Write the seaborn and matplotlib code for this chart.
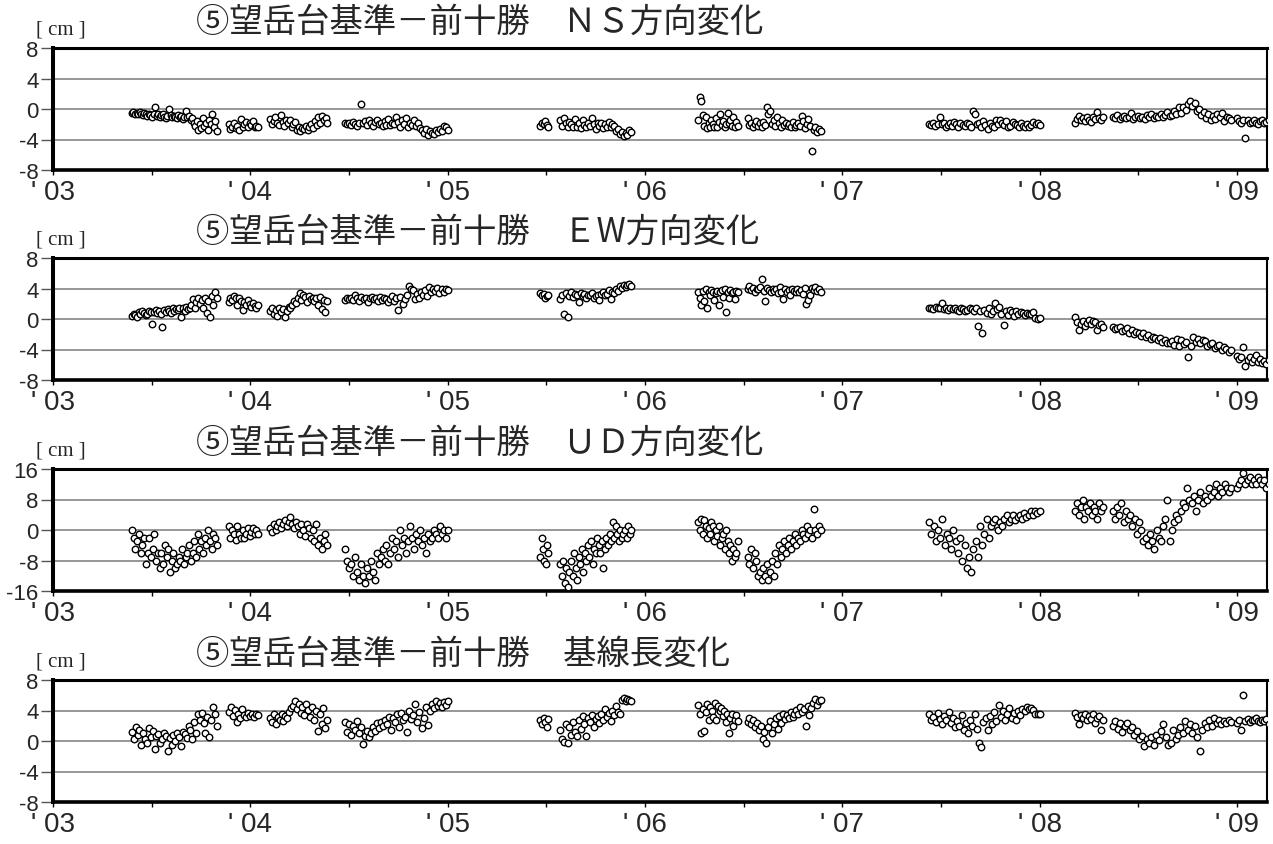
import numpy as np
import pandas as pd
import matplotlib
matplotlib.use('Agg')
import matplotlib.pyplot as plt
import seaborn as sns

sns.set_theme(style='white')
plt.rcParams['font.family'] = ['Noto Sans CJK JP', 'DejaVu Sans']

# 観測区間（年の小数表記）
seg_start = [2003.40, 2003.89, 2004.10, 2004.48, 2005.47, 2005.57, 2006.27, 2006.52, 2007.44, 2008.18, 2008.37, 2009.00]
seg_end = [2003.83, 2004.04, 2004.39, 2005.00, 2005.51, 2005.93, 2006.47, 2006.89, 2008.00, 2008.32, 2008.97, 2009.16]

# NS方向変化 [cm]
ns_vals = [
    [-0.5, -0.4, -0.6, -0.5, -0.7, -0.4, -0.6, -0.8, -0.5, -0.7, -0.9, -0.6, -0.8, -1.0, -0.7, 0.3, -0.9, -0.6, -1.1,
     -0.8, -0.7, -1.0, -1.2, -0.9, 0.0, -0.8, -1.1, -0.9, -1.0, -1.2, -0.8, -1.1, -0.9, -1.3, -1.0, -0.3, -1.1, -0.9,
     -1.4, -1.2, -1.8, -2.2, -1.6, -2.8, -2.0, -2.5, -1.2, -2.2, -1.8, -2.7, -1.4, -2.0, -0.7, -2.4, -1.6, -2.9],
    [-2.0, -2.6, -2.3, -1.9, -2.5, -2.2, -2.7, -1.3, -2.4, -2.0, -1.7, -2.3, -1.9, -2.1, -1.6, -2.4, -2.2, -2.3],
    [-1.3, -2.0, -1.6, -1.0, -1.8, -2.1, -0.8, -1.7, -2.2, -1.5, -1.9, -1.4, -2.4, -2.0, -1.7, -2.7, -2.3, -2.9, -2.5,
     -2.6, -2.2, -2.8, -2.4, -2.0, -2.5, -1.6, -2.1, -1.0, -1.8, -0.9, -1.5, -1.2, -1.9],
    [-1.8, -2.0, -1.9, -2.1, -1.7, -2.0, -2.2, -1.9, 0.7, -1.9, -1.6, -2.1, -1.5, -1.8, -2.2, -1.7, -1.4, -2.0, -1.9,
     -2.2, -1.6, -2.1, -1.3, -2.1, -1.8, -2.0, -1.0, -1.7, -2.3, -1.5, -2.0, -1.2, -2.4, -1.8, -2.1, -1.5, -2.2, -1.9,
     -2.5, -2.8, -3.2, -2.6, -3.4, -2.9, -3.1, -3.3, -2.7, -3.0, -2.6, -2.9, -2.2, -2.4, -2.8],
    [-2.2, -1.8, -2.0, -1.6, -2.1, -2.3],
    [-1.5, -2.2, -1.2, -1.9, -2.4, -1.7, -2.0, -2.3, -1.3, -2.3, -1.8, -2.5, -1.5, -2.1, -2.4, -1.9, -2.2, -1.2, -2.0,
     -2.6, -1.8, -2.2, -1.9, -2.5, -2.0, -2.3, -1.7, -2.4, -2.0, -2.2, -2.9, -2.6, -3.3, -3.0, -3.5, -3.1, -3.4, -2.8,
     -3.0],
    [-1.5, 1.6, 1.1, -0.8, -2.2, -1.0, -2.5, -1.8, -2.3, -1.5, -2.0, -2.4, -1.2, -2.4, -1.7, -0.6, -2.1, -1.6, -2.3,
     -2.0, -0.5, -1.9, -1.4, -2.2, -1.0, -2.4, -1.7, -2.2],
    [-1.2, -2.1, -1.8, -2.3, -2.0, -1.6, -2.2, -1.9, -2.4, -1.7, -2.1, 0.2, -0.7, -0.3, -2.0, -1.5, -2.2, -1.1, -1.9,
     -2.3, -1.4, -2.1, -1.8, -2.2, -2.0, -2.4, -1.7, -2.3, -2.1, -1.9, -2.2, -0.9, -1.6, -2.5, -2.0, -1.3, -2.2, -5.5,
     -2.8, -2.4, -3.0, -2.6, -2.9],
    [-2.0, -2.1, -1.9, -2.2, -2.0, -1.0, -2.0, -1.8, -2.3, -2.1, -1.9, -2.2, -1.7, -2.0, -2.4, -1.8, -2.1, -2.2, -1.9,
     -2.0, -2.3, -0.2, -0.6, -2.0, -1.8, -2.3, -1.6, -2.1, -2.6, -1.9, -2.2, -2.4, -1.5, -2.0, -1.4, -1.8, -2.1, -1.6,
     -2.3, -2.2, -1.7, -2.0, -2.1, -2.4, -1.9, -2.2, -2.3, -2.0, -2.4, -2.1, -1.7, -2.0, -1.8, -2.1],
    [-1.8, -1.3, -0.9, -1.5, -1.2, -1.6, -1.0, -1.4, -1.7, -1.1, -1.3, -0.4, -1.2, -1.5, -1.0],
    [-1.0, -1.2, -0.8, -1.3, -1.1, -0.9, -1.2, -1.0, -0.5, -1.3, -1.1, -0.9, -1.2, -1.0, -1.3, -0.8, -1.1, -0.7, -1.2,
     -0.9, -1.1, -0.6, -1.0, -0.8, -0.4, -0.9, -0.8, -0.2, -0.6, 0.3, -0.5, 0.2, -0.1, 0.6, 1.1, 0.4, 0.8, -0.3, 0.0,
     -0.8, -0.4, -1.2, -0.6, -1.5, -0.9, -1.3, -0.7, -1.1, -0.5, -1.6, -1.0, -1.2, -1.4],
    [-1.2, -1.6, -1.9, -1.4, -3.8, -1.5, -1.8, -1.7, -1.4, -1.8, -2.0, -1.6, -1.5, -1.8, -1.7, -1.4],
]

# EW方向変化 [cm]
ew_vals = [
    [0.4, 0.7, 0.5, 0.3, 0.9, 0.6, 1.0, 0.8, 0.5, 0.7, 1.1, 0.9, -0.7, 0.9, 1.2, 0.8, 1.0, 0.7, -1.1, 1.2, 0.9, 1.3, 1.1,
     0.8, 1.4, 1.0, 1.3, 1.2, 1.5, 0.3, 1.5, 1.1, 1.6, 1.3, 1.4, 1.8, 2.6, 1.5, 2.2, 2.8, 2.0, 2.5, 1.5, 2.7, 0.8, 2.3,
     0.2, 3.0, 1.9, 3.6, 2.7],
    [2.2, 2.8, 2.5, 3.0, 2.7, 1.9, 2.7, 2.4, 1.2, 2.2, 1.8, 2.5, 2.0, 1.6, 2.1, 1.7, 1.5, 1.9],
    [1.0, 1.4, 0.6, 1.2, 0.4, 1.5, 0.9, 1.3, 0.2, 1.1, 1.6, 1.4, 1.9, 2.4, 2.1, 2.8, 3.4, 2.5, 3.2, 2.9, 2.2, 3.0, 2.6,
     2.8, 2.3, 2.7, 1.8, 2.9, 1.3, 2.5, 0.9, 2.4],
    [2.5, 2.7, 2.6, 2.8, 2.5, 3.1, 2.7, 2.4, 2.9, 2.6, 2.8, 2.2, 2.7, 2.9, 2.6, 2.7, 2.3, 2.9, 2.5, 2.8, 2.6, 2.2, 2.6,
     3.0, 2.4, 2.8, 1.2, 2.9, 2.0, 2.6, 3.2, 4.3, 4.0, 3.8, 2.6, 3.3, 2.8, 3.6, 3.2, 3.8, 3.0, 4.2, 3.5, 4.0, 3.7, 4.1,
     3.4, 3.9, 3.6, 4.0, 3.8],
    [3.4, 3.1, 3.3, 2.8, 3.0, 3.2],
    [2.6, 3.2, 0.7, 3.4, 0.2, 3.0, 3.5, 2.9, 3.3, 3.1, 2.2, 3.4, 3.0, 3.3, 2.8, 3.2, 3.1, 3.4, 2.7, 3.0, 3.2, 2.5, 3.3,
     3.5, 3.1, 3.3, 3.8, 2.6, 3.6, 3.4, 4.0, 3.7, 4.3, 4.1, 4.5, 4.2, 4.4, 4.6, 4.3],
    [3.5, 2.8, 1.8, 3.7, 2.4, 3.9, 1.5, 3.6, 3.2, 3.8, 3.5, 2.5, 3.4, 3.7, 1.9, 3.5, 3.8, 2.9, 3.9, 0.9, 3.6, 2.7, 3.8,
     3.4, 3.6, 2.6, 3.7, 3.5],
    [4.0, 4.3, 3.8, 4.1, 3.6, 4.0, 3.9, 4.2, 5.3, 3.7, 2.4, 4.1, 3.8, 3.5, 4.0, 3.7, 3.9, 3.4, 4.2, 3.6, 2.6, 3.9, 3.5,
     3.8, 3.2, 4.0, 3.7, 3.5, 3.9, 3.6, 3.8, 3.3, 4.1, 2.0, 2.5, 3.2, 4.1, 3.8, 4.2, 3.7, 3.9, 3.6],
    [1.4, 1.5, 1.3, 1.6, 1.4, 1.5, 2.1, 1.3, 1.5, 1.2, 1.4, 1.3, 1.5, 1.2, 1.1, 1.4, 1.3, 1.0, 1.2, 1.5, 1.3, 1.1, 1.4,
     -0.9, 1.0, -1.8, 1.2, 0.8, 1.4, 0.6, 1.0, 2.1, 1.3, 1.6, 0.7, -0.8, 1.1, 0.5, 1.2, 0.9, 0.4, 1.0, 0.7, 0.9, 0.8,
     0.5, 0.8, 0.6, 0.7, 0.9, 0.1, 0.0, 0.1],
    [0.2, -0.4, -1.4, -0.6, -0.2, -0.9, -0.5, -0.1, -0.7, -0.3, -0.4, -1.4, -0.8, -0.6, -1.0],
    [-1.1, -1.3, -1.2, -1.0, -1.6, -1.4, -1.2, -1.8, -1.5, -2.0, -1.7, -1.9, -2.2, -1.9, -2.4, -2.1, -2.6, -2.3, -2.5,
     -2.8, -2.5, -3.0, -2.7, -3.1, -3.2, -2.9, -3.4, -2.6, -3.6, -2.8, -3.3, -3.0, -5.0, -3.6, -2.4, -3.0, -2.6, -3.2,
     -2.8, -2.9, -3.5, -3.3, -3.1, -3.8, -3.6, -3.4, -4.0, -3.7, -3.9, -4.3, -4.1],
    [-4.8, -5.3, -5.0, -3.7, -6.2, -5.4, -5.0, -5.7, -5.3, -4.7, -5.6, -5.2, -5.8, -5.5, -5.9, -5.4],
]

# UD方向変化 [cm]
ud_vals = [
    [0, -2, -5, -3, -1, -6, -4, -2, -9, -6, -2, -7, -5, -1, -8, -6, -10, -6, -9, -4, -7, -5, -11, -8, -6, -10, -9, -7,
     -8, -5, -9, -7, -6, -4, -8, -6, -3, -7, -1, -5, -3, -6, -2, -4, 0, -3, -5, -1, -2, -4],
    [1, -2, 0, -1, -2.5, 1, -1, -2, 0, -2, -1, 0.5, -1.5, -0.5, 0.5, -1, 0, -1],
    [0.5, -0.5, 1.5, 0, 1, 2, 0.5, 1.5, 2.5, 1, 2, 3.5, 1.5, 0.5, 2, 1, -1, 1.5, 0, -1.5, 1.5, 0.5, -2, 0, -3, 1.5, -4,
     -2, -5, -3, -1, -4],
    [-5, -8, -10, -9, -12, -7, -11, -13, -9, -12, -14, -10, -12, -8, -11, -13, -6, -9, -7, -5, -8, -4, -9, -6, -2, -5,
     -3, -7, 0, -4, -2, -6, -3, 1, -2, -5, -1, -3, 0, -4, -2, -6, -1, -3, -2, 0, -1, -2, 1, -1, 0, -2, 0],
    [-7, -2, -5, -8, -9, -4, -6],
    [-9, -12, -8, -14, -10, -15, -11, -8, -12, -6, -10, -13, -7, -9, -5, -11, -6, -8, -4, -7, -3, -9, -5, -6, -2, -4, -6,
     -3, -10, -5, -2, -4, -1, -3, 2, -2, 1, -1, -3, 0, -2, -1, 0, -2, 1, -1, 0],
    [2, 0, 3, -1, 2.5, 1, -2, 0.5, -1, 2, 1, -3, 0, -1.5, 1, -4, -2, -1, -5, 0, -3, -6, -4, -8, -5, -7, -6, -3],
    [-7, -9, -5, -10, -6, -8, -12, -11, -13, -10, -12, -9, -13, -11, -8, -12, -6, -9, -4, -7, -5, -3, -6, -4, -2, -5, -3,
     -1, -4, -2, -3, 0, -1, -2, 1, -1, 0, -2, 5.5, 0, -1, 1, 0],
    [2, -1, 1, -3, 0, -2, 3, -4, -1, -2, -5, 0, -3, -6, -2, -8, -4, -10, -7, -11, -5, -3, -7, 1, -4, -1, 3, -2, 1, 2, 3,
     0, 2, 1, 3, 4, 2, 3, 4, 2.5, 3.5, 4, 3, 4.5, 3.5, 4, 5, 4, 5, 4.5, 5],
    [5, 7, 4, 6, 8, 3, 6, 5, 7, 4, 6, 5, 3, 7, 5, 6],
    [5, 3, 6, 4, 7, 2, 5, 3, 4, 1, 3, -1, 2, 0, -3, -2, -4, -1, -3, -5, 0, -2, -3, 1, 3, 8, -3, 0, 2, 4, 3, 5, 7, 6, 11,
     8, 7, 9, 5, 8, 10, 7, 9, 8, 11, 9, 10, 12, 9, 11, 10, 12, 11, 10, 11],
    [11, 12, 13, 15, 12, 13, 14, 12, 13, 12, 14, 13, 12, 13, 11, 12],
]

# 基線長変化 [cm]
bl_vals = [
    [1.2, 0.3, 1.8, 0.8, 1.5, -0.5, 1.0, 0.2, -0.3, 1.7, 0.5, 1.3, -1.0, 0.6, 0.9, -0.2, 0.3, 1.1, 0.6, -1.3, 0.4, -0.5,
     0.8, 0.0, 1.0, 0.5, -0.7, 1.2, 0.9, 0.4, 2.0, 1.5, 0.3, 2.5, 1.0, 3.5, 2.8, 3.7, 2.3, 1.0, 3.2, 0.5, 2.7, 4.4, 3.5,
     2.0],
    [3.8, 4.5, 3.3, 4.1, 2.5, 3.6, 3.0, 4.2, 3.4, 3.1, 3.7, 3.3, 3.5, 3.2, 3.6, 3.4],
    [3.0, 2.5, 3.5, 2.2, 3.2, 2.8, 3.6, 2.6, 3.3, 3.0, 3.8, 4.3, 4.6, 5.3, 4.2, 4.9, 3.7, 4.5, 3.4, 4.8, 4.1, 3.2, 4.4,
     2.8, 4.0, 1.3, 3.5, 2.2, 4.3, 1.7, 2.8],
    [2.5, 1.2, 2.2, 0.8, 2.0, 1.5, 2.6, 1.0, 1.8, -0.4, 0.7, 1.3, 0.5, 1.0, 1.8, 1.3, 2.3, 1.7, 2.5, 2.0, 2.8, 2.2, 3.2,
     1.5, 3.0, 2.5, 3.5, 1.8, 3.7, 2.7, 3.2, 1.2, 4.0, 2.9, 3.4, 4.8, 2.5, 3.8, 1.7, 3.0, 4.5, 2.1, 4.0, 4.9, 4.3, 5.2,
     4.6, 5.0, 4.4, 5.1, 4.7, 5.2],
    [2.7, 2.2, 3.0, 2.5, 1.9, 2.9],
    [1.4, 0.3, -0.1, 2.2, -0.3, 1.8, 0.8, 2.5, 1.2, 0.7, 2.8, 1.6, 3.3, 2.2, 0.6, 3.0, 2.5, 3.4, 1.8, 2.9, 3.3, 2.4, 3.6,
     2.8, 4.2, 3.1, 3.7, 2.6, 4.0, 3.4, 4.6, 3.8, 3.5, 5.4, 5.6, 5.3, 5.5, 5.4, 5.2],
    [4.7, 3.5, 1.0, 4.2, 1.3, 3.8, 4.9, 2.7, 4.4, 4.0, 3.2, 5.0, 2.8, 4.6, 3.9, 4.3, 3.3, 4.0, 2.5, 3.6, 1.1, 3.0, 3.5,
     2.0, 2.8, 3.4, 2.6],
    [2.5, 3.0, 2.2, 2.7, 1.8, 2.4, 1.5, 2.0, 0.2, 1.2, -0.3, 1.8, 2.6, 1.0, 2.2, 3.0, 1.6, 3.3, 2.4, 3.6, 2.9, 3.4, 3.0,
     3.8, 3.2, 3.5, 4.1, 3.5, 4.4, 3.8, 4.2, 2.0, 4.6, 3.4, 4.3, 5.0, 5.5, 4.7, 5.2, 5.4],
    [3.5, 2.8, 3.2, 2.5, 3.7, 2.9, 2.2, 3.3, 2.7, 3.8, 2.4, 3.0, 1.8, 2.6, 2.0, 3.4, 1.5, 2.3, 1.0, 2.7, 2.0, 3.5, 1.6,
     -0.2, -0.8, 2.5, 3.0, 1.4, 3.3, 2.2, 3.8, 2.6, 4.7, 3.2, 4.0, 2.7, 3.6, 4.3, 3.0, 3.7, 2.8, 4.0, 3.4, 4.2, 3.9, 4.4,
     4.2, 4.3, 4.1, 3.5, 3.6, 3.5],
    [3.7, 3.2, 2.2, 3.4, 3.0, 3.6, 2.7, 3.3, 2.9, 3.5, 2.4, 3.0, 3.3, 1.5, 2.8],
    [2.0, 2.6, 1.6, 2.3, 1.2, 2.0, 2.4, 1.5, 1.8, 0.8, 1.3, 0.2, 0.6, -0.6, 0.3, -0.2, 0.5, -0.5, 0.8, 0.1, 1.3, 2.2, 0.5,
     -0.5, -0.2, 1.4, 0.3, 0.8, 1.8, 1.0, 2.6, 1.5, 2.2, 1.0, 2.0, 0.5, -1.3, 1.5, 2.3, 1.8, 2.8, 2.0, 3.0, 2.4, 2.7, 2.2,
     2.6, 2.4, 2.8, 2.5],
    [2.4, 2.7, 1.4, 6.0, 2.6, 2.9, 2.5, 2.8, 2.7, 3.0, 2.6, 2.5, 2.8, 2.6, 2.9, 2.2],
]

titles = ['⑤望岳台基準－前十勝　ＮＳ方向変化',
          '⑤望岳台基準－前十勝　ＥW方向変化',
          '⑤望岳台基準－前十勝　ＵＤ方向変化',
          '⑤望岳台基準－前十勝　基線長変化']
year_ticks = [2003, 2004, 2005, 2006, 2007, 2008, 2009]
year_labels = ["' 03", "' 04", "' 05", "' 06", "' 07", "' 08", "' 09"]
half_ticks = [2003.5, 2004.5, 2005.5, 2006.5, 2007.5, 2008.5]
y_ticks_list = [[-8, -4, 0, 4, 8], [-8, -4, 0, 4, 8], [-16, -8, 0, 8, 16], [-8, -4, 0, 4, 8]]
y_labels_list = [['-8', '-4', '0', '4', '8'], ['-8', '-4', '0', '4', '8'],
                 ['-16', '-8', '0', '8', '16'], ['-8', '-4', '0', '4', '8']]
all_vals = [ns_vals, ew_vals, ud_vals, bl_vals]

num_font = ['Liberation Sans', 'DejaVu Sans']


def to_frame(vals):
    # 各観測区間の値を年の位置に並べる
    parts = []
    for s, e, v in zip(seg_start, seg_end, vals):
        parts.append(pd.DataFrame({'year': np.linspace(s, e, len(v)), 'cm': v}))
    return pd.concat(parts, ignore_index=True)


W, H = 1273, 845
fig = plt.figure(figsize=(W / 100, H / 100), dpi=100)
tops = [49, 259, 470, 681]
ax_left, ax_right, ax_h = 53, 1267, 122

for i in range(4):
    top = tops[i]
    ax = fig.add_axes([ax_left / W, 1 - (top + ax_h) / H, (ax_right - ax_left) / W, ax_h / H])
    df = to_frame(all_vals[i])
    sns.scatterplot(data=df, x='year', y='cm', ax=ax, marker='o', s=22,
                    facecolor='white', edgecolor='black', linewidth=1.0, zorder=3)
    ax.set_xlim(2003.0, 2009.152)
    yt = y_ticks_list[i]
    ax.set_ylim(yt[0], yt[-1])
    ax.set_yticks(yt)
    ax.set_yticklabels(y_labels_list[i], fontfamily=num_font, fontsize=16)
    ax.set_xticks(year_ticks)
    ax.set_xticklabels(year_labels, fontfamily=num_font, fontsize=20)
    ax.set_xticks(half_ticks, minor=True)
    ax.set_xlabel(None)
    ax.set_ylabel(None)
    ax.set_axisbelow(True)
    ax.grid(axis='y', color='#7a7a7a', linewidth=1.1)
    ax.grid(axis='x', visible=False)
    ax.tick_params(axis='x', which='both', bottom=True, direction='out', length=3.5, width=1.0,
                   color='black', pad=3)
    ax.tick_params(axis='y', which='major', left=True, direction='out', length=9, width=1.0,
                   color='#555555', pad=1.5)
    for side, lw in [('left', 2.9), ('bottom', 2.6), ('top', 2.2), ('right', 1.5)]:
        ax.spines[side].set_visible(True)
        ax.spines[side].set_color('black')
        ax.spines[side].set_linewidth(lw)
    # 単位とタイトル
    fig.text(36 / W, 1 - (top - 19) / H, '[ cm ]', ha='left', va='center',
             fontfamily=['Liberation Serif', 'DejaVu Serif'], fontsize=15)
    fig.text(196 / W, 1 - (top - 27) / H, titles[i], ha='left', va='center', fontsize=24)

plt.savefig('out.png', dpi=100)
